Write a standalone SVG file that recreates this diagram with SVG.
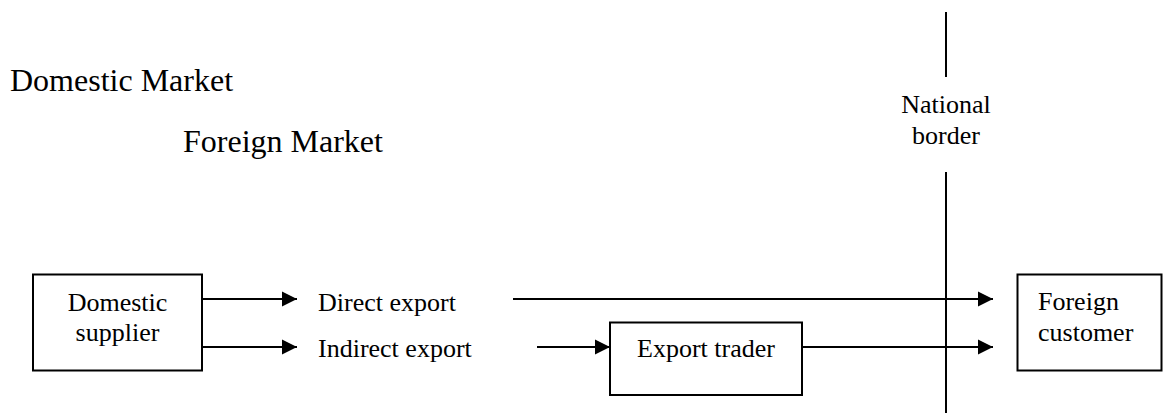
<svg xmlns="http://www.w3.org/2000/svg" width="1163" height="417" viewBox="0 0 1163 417">
<style>
.lbl { font-size: 26px; fill: #000; }
.big { font-size: 32px; fill: #000; }
.box { fill: #fff; stroke: #000; stroke-width: 2; }
.conn { stroke: #000; stroke-width: 2; fill: none; }
</style>
<defs>
<marker id="arrow" markerUnits="userSpaceOnUse" markerWidth="16" markerHeight="16" viewBox="0 0 16 16" refX="15" refY="8" orient="auto">
<path d="M0,0.5 L15,8 L0,15.5 Z" fill="#000"/>
</marker>
</defs>
<rect width="1163" height="417" fill="#fff"/>
<g id="labels" font-family="Liberation Serif, DejaVu Serif, serif">
<text class="big" x="10" y="91">Domestic Market</text>
<text class="big" x="183" y="152">Foreign Market</text>
</g>
<g id="border" font-family="Liberation Serif, DejaVu Serif, serif">
<line class="conn" x1="946" y1="12" x2="946" y2="77"/>
<line class="conn" x1="946" y1="172" x2="946" y2="413"/>
<text class="lbl" x="946" y="113" text-anchor="middle">National</text>
<text class="lbl" x="946" y="144" text-anchor="middle">border</text>
</g>
<g id="connectors">
<line class="conn" x1="202" y1="299" x2="297" y2="299" marker-end="url(#arrow)"/>
<line class="conn" x1="202" y1="347" x2="297" y2="347" marker-end="url(#arrow)"/>
<line class="conn" x1="513" y1="299" x2="993" y2="299" marker-end="url(#arrow)"/>
<line class="conn" x1="537" y1="347" x2="610" y2="347" marker-end="url(#arrow)"/>
<line class="conn" x1="802" y1="347" x2="993" y2="347" marker-end="url(#arrow)"/>
</g>
<g id="direct-export" font-family="Liberation Serif, DejaVu Serif, serif">
<text class="lbl" x="318" y="310.5">Direct export</text>
</g>
<g id="indirect-export" font-family="Liberation Serif, DejaVu Serif, serif">
<text class="lbl" x="318" y="357">Indirect export</text>
</g>
<g id="domestic-supplier" font-family="Liberation Serif, DejaVu Serif, serif">
<rect class="box" x="33" y="274.5" width="169" height="96"/>
<text class="lbl" x="117.5" y="310.5" text-anchor="middle">Domestic</text>
<text class="lbl" x="117.5" y="340.5" text-anchor="middle">supplier</text>
</g>
<g id="export-trader" font-family="Liberation Serif, DejaVu Serif, serif">
<rect class="box" x="610" y="322.5" width="192" height="72.5"/>
<text class="lbl" x="706" y="357" text-anchor="middle">Export trader</text>
</g>
<g id="foreign-customer" font-family="Liberation Serif, DejaVu Serif, serif">
<rect class="box" x="1017.5" y="274.5" width="144" height="96"/>
<text class="lbl" x="1038" y="310">Foreign</text>
<text class="lbl" x="1038" y="340.5">customer</text>
</g>
</svg>
